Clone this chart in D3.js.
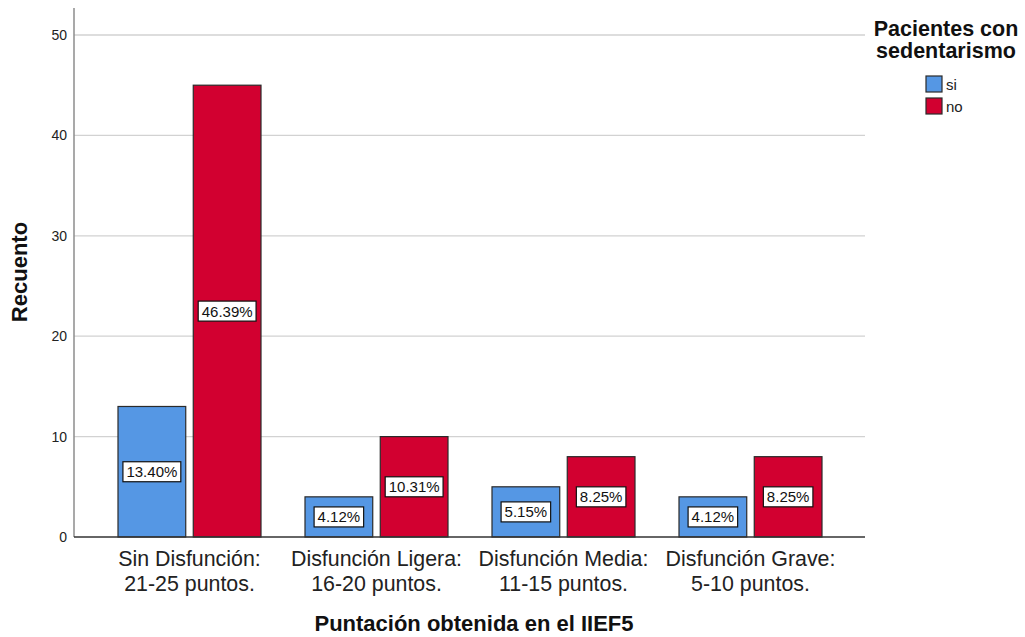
<!DOCTYPE html>
<html>
<head>
<meta charset="utf-8">
<script src="https://cdn.jsdelivr.net/npm/d3@7"></script>
<style>
  html, body { margin: 0; padding: 0; background: #fff; }
  svg { display: block; font-family: "Liberation Sans", Arial, sans-serif; }
</style>
</head>
<body>
<svg id="chart" width="1025" height="637"></svg>
<script>
// Categories of the IIEF5 score and counts per sedentarism group
const categories = [
  ["Sin Disfunción:", "21-25 puntos."],
  ["Disfunción Ligera:", "16-20 puntos."],
  ["Disfunción Media:", "11-15 puntos."],
  ["Disfunción Grave:", "5-10 puntos."]
];
const seriesNames = ["si", "no"];
const siValues = [13, 4, 5, 4];
const noValues = [45, 10, 8, 8];
const yTicks = [0, 10, 20, 30, 40, 50];
const colors = { si: "#5597e4", no: "#d20030" };

const total = d3.sum(siValues) + d3.sum(noValues);
const rows = categories.map((c, i) => ({
  key: i,
  label: c,
  values: [
    { series: "si", value: siValues[i] },
    { series: "no", value: noValues[i] }
  ]
}));

const svg = d3.select("#chart");
const plot = { left: 74, right: 865, top: 8, bottom: 537 };

const y = d3.scaleLinear().domain([0, 50]).range([537, 35]);
const x0 = d3.scaleBand().domain(rows.map(r => r.key)).range([96, 844]).padding(0);
const x1 = d3.scaleBand().domain(seriesNames).range([22, x0.bandwidth() - 22]).paddingInner(0.1);

// Gridlines
svg.append("g")
  .selectAll("line")
  .data(yTicks.filter(t => t > 0))
  .join("line")
  .attr("x1", plot.left).attr("x2", plot.right)
  .attr("y1", d => y(d)).attr("y2", d => y(d))
  .attr("stroke", "#d2d2d2").attr("stroke-width", 1.3);

// Y axis
const yAxis = svg.append("g")
  .attr("transform", `translate(${plot.left},0)`)
  .call(d3.axisLeft(y).tickValues(yTicks).tickSize(0).tickPadding(7));
yAxis.select(".domain").remove();
yAxis.selectAll("text")
  .attr("font-size", 14).attr("fill", "#222")
  .attr("font-family", "'Liberation Sans', Arial, sans-serif");
svg.append("line")
  .attr("x1", plot.left).attr("x2", plot.left)
  .attr("y1", plot.top).attr("y2", plot.bottom)
  .attr("stroke", "#8c8c8c").attr("stroke-width", 1.5);

// Bars
const groups = svg.append("g")
  .selectAll("g")
  .data(rows)
  .join("g")
  .attr("transform", d => `translate(${x0(d.key)},0)`);

groups.selectAll("rect")
  .data(d => d.values)
  .join("rect")
  .attr("x", d => x1(d.series))
  .attr("width", x1.bandwidth())
  .attr("y", d => y(d.value))
  .attr("height", d => y(0) - y(d.value))
  .attr("fill", d => colors[d.series])
  .attr("stroke", "#2a2a2a").attr("stroke-width", 1.2);

// Percentage labels
const lab = groups.selectAll("g.lab")
  .data(d => d.values)
  .join("g")
  .attr("class", "lab")
  .attr("transform", d => `translate(${x1(d.series) + x1.bandwidth() / 2},${y(d.value / 2)})`);

lab.append("text")
  .attr("text-anchor", "middle")
  .attr("dy", "0.36em")
  .attr("font-size", 15)
  .attr("fill", "#111")
  .text(d => (d.value / total * 100).toFixed(2) + "%")
  .each(function () {
    const b = this.getBBox();
    d3.select(this.parentNode).insert("rect", "text")
      .attr("x", b.x - 3.5).attr("y", -10)
      .attr("width", b.width + 7).attr("height", 20)
      .attr("fill", "#fff").attr("stroke", "#111").attr("stroke-width", 1.2);
  });

// Baseline
svg.append("line")
  .attr("x1", plot.left).attr("x2", plot.right)
  .attr("y1", plot.bottom).attr("y2", plot.bottom)
  .attr("stroke", "#333").attr("stroke-width", 1.3);

// Category labels (slightly narrowed face), one text per line
const catGroups = svg.append("g")
  .selectAll("g")
  .data(rows)
  .join("g")
  .attr("transform", d => `translate(${x0(d.key) + x0.bandwidth() / 2},0) scale(0.93,1)`);
catGroups.selectAll("text")
  .data(d => d.label)
  .join("text")
  .attr("text-anchor", "middle")
  .attr("font-size", 23)
  .attr("fill", "#222")
  .attr("y", (d, i) => 566 + i * 25)
  .text(d => d);

// Axis titles
svg.append("text")
  .attr("transform", "translate(27,272) rotate(-90)")
  .attr("text-anchor", "middle")
  .attr("font-size", 22).attr("font-weight", "bold").attr("fill", "#111")
  .text("Recuento");

svg.append("text")
  .attr("x", 474).attr("y", 631)
  .attr("text-anchor", "middle")
  .attr("font-size", 22).attr("font-weight", "bold").attr("fill", "#111")
  .text("Puntación obtenida en el IIEF5");

// Legend
const legend = svg.append("g");
legend.selectAll("text.title")
  .data(["Pacientes con", "sedentarismo"])
  .join("text")
  .attr("class", "title")
  .attr("x", 946).attr("y", (d, i) => 36 + i * 22)
  .attr("text-anchor", "middle")
  .attr("font-size", 21.5).attr("font-weight", "bold").attr("fill", "#111")
  .text(d => d);

const items = legend.selectAll("g.item")
  .data(seriesNames)
  .join("g")
  .attr("class", "item")
  .attr("transform", (d, i) => `translate(926,${76 + i * 22})`);
items.append("rect")
  .attr("width", 16).attr("height", 16)
  .attr("fill", d => colors[d])
  .attr("stroke", "#2a2a2a").attr("stroke-width", 1.2);
items.append("text")
  .attr("x", 20).attr("y", 14)
  .attr("font-size", 15).attr("fill", "#222")
  .text(d => d);
</script>
</body>
</html>
